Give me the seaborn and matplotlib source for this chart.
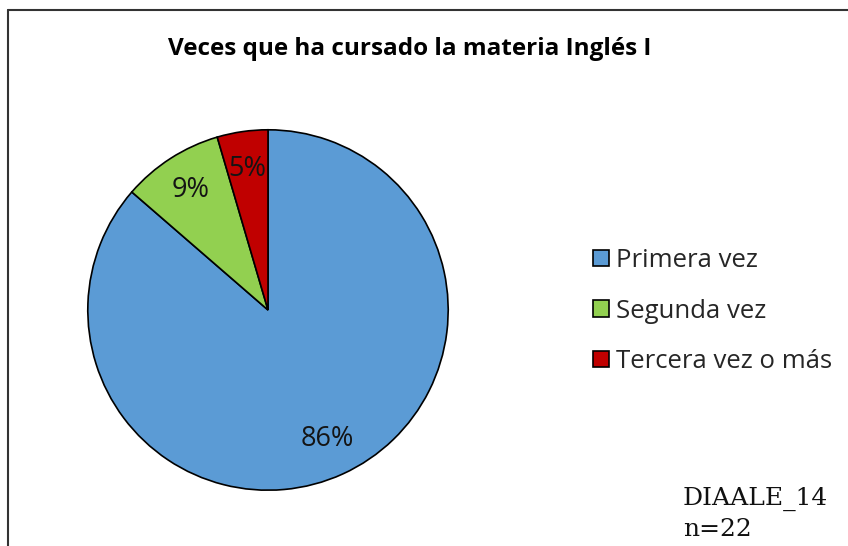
import matplotlib
matplotlib.use("Agg")
import matplotlib.pyplot as plt
import seaborn as sns
from matplotlib.lines import Line2D

# data
categorias = ["Primera vez", "Segunda vez", "Tercera vez o más"]
conteos = [19, 2, 1]   # n=22
colores = ["#5B9BD5", "#92D050", "#C00000"]
titulo = "Veces que ha cursado la materia Inglés I"
nota = "DIAALE_14\nn=22"

sns.set_theme(style="white")
plt.rcParams['font.family'] = ['Open Sans', 'DejaVu Sans']

W, H = 848, 546
fig = plt.figure(figsize=(W / 100, H / 100), dpi=100)

# pie axes: centre (268, 310), radius ~182 px
cx, cy, r = 268, 310, 182
ax = fig.add_axes([(cx - r) / W, (H - cy - r) / H, 2 * r / W, 2 * r / H])
wedges, texts, autotexts = ax.pie(conteos, colors=colores, startangle=90,
                                  counterclock=False, autopct='%1.0f%%',
                                  pctdistance=0.79,
                                  wedgeprops=dict(edgecolor='black', linewidth=1.2),
                                  textprops=dict(fontsize=19.5, color='#141414'))
ax.set_xlim(-1.01, 1.01)
ax.set_ylim(-1.01, 1.01)
ax.axis('off')

fig.text(410 / W, 1 - 49 / H, titulo, ha='center', va='center',
         fontsize=17.5, fontweight='bold', color='black')

fig.legend(wedges, categorias, loc='center left',
           bbox_to_anchor=(583 / W, 1 - 311 / H), frameon=False,
           fontsize=18.5, handlelength=0.6, handleheight=0.6,
           handletextpad=0.3, labelspacing=1.0, borderaxespad=0)

fig.text(683 / W, 1 - 514 / H, nota, ha='left', va='center',
         fontsize=18, family=['DejaVu Serif'], linespacing=1.4, color='#111111')

# chart frame (left and top edges)
fig.add_artist(Line2D([8 / W, 8 / W], [0, 1 - 10 / H], color='#333333', lw=1.5))
fig.add_artist(Line2D([8 / W, 1], [1 - 10 / H, 1 - 10 / H], color='#333333', lw=1.5))

fig.savefig("out.png", dpi=100)
